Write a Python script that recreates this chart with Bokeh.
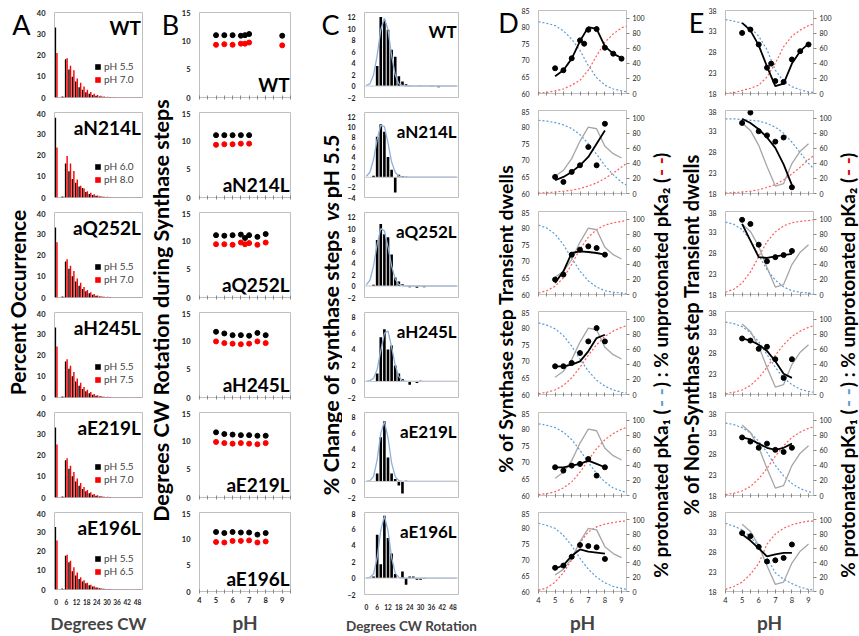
import math
from bokeh.plotting import figure
from bokeh.layouts import row, column
from bokeh.models import Range1d, LinearAxis, FixedTicker, Legend, LegendItem, Span, ColumnDataSource
from bokeh.transform import dodge
from bokeh.core.properties import value
from bokeh.embed import file_html
from bokeh.resources import INLINE

FONT = "Lato"
H = 636

STRAINS = ["WT", "aN214L", "aQ252L", "aH245L", "aE219L", "aE196L"]

# ---------- A: rotation step-size distributions (2-degree bins) ----------
A_BINS = list(range(0, 52, 2))
A_LABELS = [("pH 5.5", "pH 7.0"), ("pH 6.0", "pH 8.0"), ("pH 5.5", "pH 7.0"),
            ("pH 5.5", "pH 7.5"), ("pH 5.5", "pH 7.0"), ("pH 5.5", "pH 6.5")]
A_LOW = [
    [33.0, 0.0, 0.5, 18.0, 13.2, 9.8, 7.5, 4.8, 3.6, 2.5, 1.8, 1.2, 0.8, 0.5, 0.35, 0.25, 0.2, 0.15, 0.1, 0.1, 0.1, 0.1, 0.1, 0.1, 0.1, 0.1],
    [37.5, 0.0, 0.5, 16.0, 12.3, 8.7, 7.0, 5.2, 4.5, 2.6, 1.6, 1.2, 0.8, 0.5, 0.3, 0.2, 0.15, 0.1, 0.1, 0.1, 0.1, 0.1, 0.1, 0.1, 0.1, 0.1],
    [33.0, 0.0, 0.5, 17.0, 13.5, 10.0, 7.5, 5.5, 4.0, 3.0, 2.0, 1.3, 0.8, 0.5, 0.35, 0.25, 0.2, 0.15, 0.1, 0.1, 0.1, 0.1, 0.1, 0.1, 0.1, 0.1],
    [33.0, 0.0, 0.5, 17.0, 13.5, 10.0, 7.5, 5.5, 4.0, 3.0, 2.0, 1.3, 0.8, 0.5, 0.35, 0.25, 0.2, 0.15, 0.1, 0.1, 0.1, 0.1, 0.1, 0.1, 0.1, 0.1],
    [33.0, 0.0, 0.5, 17.5, 13.5, 10.0, 7.5, 5.5, 4.0, 3.0, 2.0, 1.3, 0.8, 0.5, 0.35, 0.25, 0.2, 0.15, 0.1, 0.1, 0.1, 0.1, 0.1, 0.1, 0.1, 0.1],
    [32.5, 0.0, 0.5, 17.5, 14.2, 9.5, 7.3, 5.5, 4.2, 3.2, 2.2, 1.5, 1.0, 0.6, 0.4, 0.3, 0.2, 0.15, 0.1, 0.1, 0.1, 0.1, 0.1, 0.1, 0.1, 0.1],
]
A_HIGH = [
    [21.0, 0.0, 0.3, 18.5, 15.0, 12.8, 9.0, 7.0, 5.2, 3.6, 2.6, 1.8, 1.2, 0.8, 0.5, 0.35, 0.25, 0.2, 0.15, 0.1, 0.1, 0.1, 0.1, 0.1, 0.1, 0.1],
    [23.5, 0.0, 0.3, 19.5, 16.0, 12.5, 8.5, 5.5, 4.2, 3.0, 2.2, 1.5, 1.0, 0.6, 0.4, 0.3, 0.2, 0.15, 0.1, 0.1, 0.1, 0.1, 0.1, 0.1, 0.1, 0.1],
    [26.0, 0.0, 0.3, 18.0, 15.0, 12.5, 9.0, 7.0, 5.0, 3.5, 2.5, 1.6, 1.0, 0.6, 0.4, 0.3, 0.2, 0.15, 0.1, 0.1, 0.1, 0.1, 0.1, 0.1, 0.1, 0.1],
    [24.0, 0.0, 0.3, 18.0, 15.0, 12.0, 9.0, 7.0, 5.0, 3.6, 2.6, 1.7, 1.1, 0.7, 0.4, 0.3, 0.2, 0.15, 0.1, 0.1, 0.1, 0.1, 0.1, 0.1, 0.1, 0.1],
    [25.0, 0.0, 0.3, 18.5, 15.0, 12.0, 9.0, 6.8, 5.0, 3.5, 2.5, 1.7, 1.1, 0.7, 0.4, 0.3, 0.2, 0.15, 0.1, 0.1, 0.1, 0.1, 0.1, 0.1, 0.1, 0.1],
    [25.5, 0.0, 0.3, 18.0, 15.0, 11.5, 8.8, 6.3, 4.8, 3.5, 2.5, 1.7, 1.1, 0.7, 0.4, 0.3, 0.2, 0.15, 0.1, 0.1, 0.1, 0.1, 0.1, 0.1, 0.1, 0.1],
]

# ---------- B: mean rotation per synthase step vs pH ----------
B_PH = [
    [5, 5.5, 6, 6.5, 6.75, 7, 9],
    [5, 5.5, 6, 6.5, 7],
    [5, 5.5, 6, 6.5, 6.75, 7, 7.5, 8],
    [5, 5.5, 6, 6.5, 7, 7.5, 8],
    [5, 5.5, 6, 6.5, 7, 7.5, 8],
    [5, 5.5, 6, 6.5, 7, 7.5, 8],
]
B_BLACK = [
    [11.0, 11.0, 11.0, 10.9, 11.0, 11.2, 10.9],
    [11.0, 11.0, 11.0, 11.0, 11.0],
    [11.0, 10.9, 11.0, 11.1, 10.5, 11.0, 10.7, 11.2],
    [11.6, 11.3, 11.0, 11.0, 10.9, 11.4, 11.0],
    [11.5, 11.2, 11.1, 11.0, 11.0, 10.9, 10.9],
    [11.3, 11.1, 11.3, 11.2, 11.2, 10.8, 11.1],
]
B_RED = [
    [9.3, 9.4, 9.3, 9.5, 9.5, 9.7, 9.2],
    [9.3, 9.4, 9.4, 9.5, 9.5],
    [9.4, 9.4, 9.3, 9.7, 9.4, 9.6, 9.3, 9.7],
    [9.9, 9.6, 9.5, 9.4, 9.5, 9.9, 9.6],
    [9.8, 9.6, 9.5, 9.6, 9.5, 9.4, 9.6],
    [9.4, 9.3, 9.6, 9.6, 9.7, 9.3, 9.5],
]

# ---------- C: change of step distribution vs pH 5.5, with Gaussian fits ----------
C_BINS = list(range(0, 52, 2))
C_YRANGE = [(-2, 12.8), (-4, 12.8), (-2, 12.8), (-2, 8.6), (-2, 8.6), (-2, 8.0)]
C_YTICKS = [list(range(-2, 13, 2)), list(range(-4, 13, 2)), list(range(-2, 13, 2)),
            list(range(-2, 9, 2)), list(range(-2, 9, 2)), list(range(-2, 9, 2))]
C_BARS = [
    [0, 0, 0, 3.5, 12.0, 11.5, 9.8, 6.3, 5.1, 1.7, 0.8, 0.3, 0.1, 0, 0, 0.1, 0, 0, -0.1, 0, -0.2, 0, 0, 0, 0, 0],
    [0, 0, 0.3, 8.0, 10.5, 9.0, 4.0, 1.5, -3.0, 0.5, 0.2, 0.1, 0, -0.1, 0, 0, 0, 0, 0, 0, 0, 0, 0, 0, 0, 0],
    [0, 0, 0.2, 8.0, 10.8, 9.0, 8.5, 5.5, 1.5, 0.8, 0.3, 0, -0.2, 0, -0.3, 0, -0.2, 0, 0, 0, 0, 0, 0, 0, 0, 0],
    [0, 0, 0, 1.0, 5.5, 6.5, 4.0, 4.5, 2.0, 1.0, 0.3, 0, -0.4, 0, -0.2, 0.1, 0, 0, 0, 0, 0, 0, 0, 0, 0, 0],
    [0, 0, 0, 1.0, 5.5, 7.5, 3.0, 1.0, 0.3, -0.5, -1.5, 0.1, 0, 0, 0, 0, 0, 0, 0, 0, 0, 0, 0, 0, 0, 0],
    [0, 0, 0.2, 5.3, 1.7, 7.6, 4.9, 3.0, 0.5, 0, 0.8, -0.8, 0.2, 0.2, -0.2, -0.2, -0.1, 0, 0, 0, 0, 0, 0, 0, 0, 0],
]
C_FIT = [
    [0.1, 0.4, 1.9, 5.3, 9.8, 11.8, 9.8, 5.3, 1.9, 0.4, 0.1, 0, 0, 0, 0, 0, 0, 0, 0, 0, 0, 0, 0, 0, 0, 0],
    [0.2, 1.0, 3.5, 7.5, 10.3, 10.0, 6.8, 3.0, 1.0, 0.2, 0.05, 0, 0, 0, 0, 0, 0, 0, 0, 0, 0, 0, 0, 0, 0, 0],
    [0.2, 1.0, 3.5, 7.3, 10.0, 9.6, 6.8, 3.5, 1.2, 0.3, 0.05, 0, 0, 0, 0, 0, 0, 0, 0, 0, 0, 0, 0, 0, 0, 0],
    [0, 0.1, 0.4, 1.5, 3.8, 6.0, 6.3, 4.3, 2.0, 0.6, 0.1, 0, 0, 0, 0, 0, 0, 0, 0, 0, 0, 0, 0, 0, 0, 0],
    [0, 0.1, 0.6, 2.7, 6.0, 7.5, 5.5, 2.3, 0.6, 0.1, 0, 0, 0, 0, 0, 0, 0, 0, 0, 0, 0, 0, 0, 0, 0, 0],
    [0, 0.1, 0.5, 2.5, 5.8, 7.6, 5.8, 2.5, 0.6, 0.1, 0, 0, 0, 0, 0, 0, 0, 0, 0, 0, 0, 0, 0, 0, 0, 0],
]

# ---------- D / E: transient dwell occurrence vs pH with pKa titration curves ----------
PH_GRID = [4, 4.5, 5, 5.5, 6, 6.5, 7, 7.5, 8, 8.5, 9, 9.3]

D_DOT_X = [
    [5, 5.5, 6, 6.5, 6.75, 7, 7.5, 8, 8.5, 9],
    [5, 5.5, 6, 6.5, 7, 7.5, 8],
    [5, 5.5, 6, 6.5, 7, 7.5, 8],
    [5, 5.5, 6, 6.5, 7, 7.5, 8],
    [5, 5.5, 6, 6.5, 7, 7.5, 8],
    [5, 5.5, 6, 6.5, 7, 7.5, 8],
]
D_DOT_Y = [
    [67.6, 67.0, 70.6, 76.0, 75.0, 79.2, 79.4, 73.8, 72.0, 70.5],
    [65.0, 63.5, 66.5, 68.5, 74.0, 68.5, 81.0],
    [64.5, 66.0, 72.0, 73.5, 74.5, 74.0, 72.0],
    [68.5, 68.5, 69.5, 72.5, 76.0, 80.0, 76.0],
    [68.5, 67.5, 69.0, 69.5, 71.0, 66.0, 68.5],
    [67.5, 68.2, 71.0, 74.7, 74.4, 74.0, 70.3],
]
D_FIT_X = [
    [5, 5.5, 6, 6.5, 7, 7.5, 8, 8.5, 9],
    [5, 5.5, 6, 6.5, 7, 7.5, 8],
    [5, 5.5, 6, 6.5, 7, 7.5, 8],
    [5, 5.5, 6, 6.5, 7, 7.5, 8],
    [5, 5.5, 6, 6.5, 7, 7.5, 8],
    [5, 5.5, 6, 6.5, 7, 7.5, 8],
]
D_FIT_Y = [
    [65.2, 67.0, 70.5, 75.8, 80.0, 79.5, 74.2, 72.0, 70.7],
    [64.0, 65.0, 66.5, 68.5, 71.0, 75.0, 79.0],
    [63.5, 67.0, 72.5, 73.0, 72.8, 72.5, 72.0],
    [68.5, 68.5, 69.0, 70.0, 73.0, 77.0, 78.0],
    [68.5, 68.5, 69.0, 69.5, 70.5, 69.5, 68.5],
    [67.2, 68.3, 71.3, 73.3, 72.6, 72.3, 72.0],
]
D_BLUE = [
    [95, 93, 90, 83, 72, 57, 37, 21, 11, 6, 3.5, 2.5],
    [97, 96, 94, 91, 86, 78, 66, 52, 37, 25, 15, 11],
    [92, 88, 80, 66, 48, 31, 18, 10, 5, 3, 2, 1],
    [95, 92, 87, 78, 64, 47, 31, 19, 11, 6, 3, 2],
    [95, 93, 90, 84, 74, 60, 44, 29, 18, 10, 6, 4],
    [95, 92, 88, 78, 64, 46, 31, 20, 12, 7, 4.4, 3],
]
D_RED = [
    [0.5, 1.5, 3.5, 6, 11, 17.5, 31, 50, 68, 79, 87, 89],
    [0.5, 1, 2, 3, 4.5, 6.5, 10, 14, 20, 27, 35, 40],
    [2, 5, 11, 22, 40, 60, 76, 86, 92, 95, 97, 98],
    [1, 3, 6, 12, 22, 36, 52, 66, 77, 84, 89, 91],
    [1, 2.5, 5, 10, 18, 31, 47, 62, 74, 82, 88, 90],
    [2, 5, 13, 26, 44, 68, 83, 90, 94, 96, 98, 98],
]

E_DOT_X = D_DOT_X
E_DOT_Y = [
    [32.6, 33.4, 29.8, 24.2, 25.2, 21.0, 20.8, 26.2, 28.2, 29.8],
    [35.0, 37.5, 33.0, 32.0, 30.5, 31.5, 19.5],
    [36.0, 35.0, 30.0, 26.0, 27.0, 27.5, 28.5],
    [31.5, 31.0, 29.0, 29.5, 26.5, 22.0, 26.5],
    [32.0, 31.0, 29.5, 30.5, 29.0, 28.5, 29.5],
    [32.8, 32.0, 29.3, 25.6, 25.9, 26.5, 29.9],
]
E_FIT_X = D_FIT_X
E_FIT_Y = [
    [35.0, 33.2, 29.6, 24.5, 19.8, 20.4, 25.2, 28.2, 30.0],
    [36.0, 35.0, 33.5, 31.5, 29.0, 25.0, 20.0],
    [35.0, 31.0, 27.0, 26.8, 27.2, 27.5, 27.8],
    [31.5, 31.0, 30.0, 28.5, 26.0, 23.0, 22.0],
    [32.0, 31.5, 30.5, 29.5, 29.0, 29.5, 30.5],
    [32.5, 30.9, 28.9, 26.9, 27.4, 27.8, 27.8],
]
E_BLUE = [
    [98, 96, 93, 87, 76, 58, 31, 16, 9, 5, 2, 1.5],
    [99, 99, 98, 97, 96, 93, 88, 80, 68, 54, 40, 33],
    [96, 93, 86, 72, 52, 33, 19, 10, 5, 3, 2, 1],
    [96, 94, 90, 82, 70, 53, 36, 22, 13, 7, 4, 3],
    [96, 94, 90, 83, 72, 57, 40, 26, 16, 9, 5, 4],
    [95, 91, 86, 76, 63, 47, 26, 17, 11, 6, 3, 2],
]
E_RED = [
    [0, 1, 4, 7, 11, 22, 40, 62, 76, 84, 90, 92],
    [0.5, 1, 2, 3, 5, 8, 12, 18, 26, 35, 45, 50],
    [3, 7, 15, 30, 50, 70, 83, 91, 95, 97, 98, 99],
    [1, 3, 6, 12, 22, 36, 52, 66, 77, 84, 89, 91],
    [1, 3, 6, 12, 22, 36, 52, 66, 77, 84, 89, 91],
    [3, 7, 13, 24, 39, 66, 80, 88, 93, 96, 98, 98],
]

BLUE = "#5b9bd5"
RED_DOT = "#ff5b5b"
GRAY = "#a6a6a6"
BOX = "#bfbfbf"

# row geometry: frame tops and heights
ABC_TOP = [12, 2, 2, 2, 2, 2]
ABC_BOT = [13, 13, 13, 13, 13, 39]
ABC_FH = 85
DE_TOP = [10, 2, 2, 2, 2, 2]
DE_BOT = [15, 16, 15, 16, 15, 41]
DE_FH = 83


def base(width, height, xr, yr, bl, br, bt, bb):
    p = figure(width=width, height=height, x_range=xr, y_range=yr,
               min_border_left=bl, min_border_right=br, min_border_top=bt, min_border_bottom=bb,
               toolbar_location=None, output_backend="svg", title=None)
    p.grid.visible = False
    p.outline_line_color = BOX
    p.outline_line_width = 1
    p.background_fill_color = "white"
    p.border_fill_color = "white"
    return p


def style_axis(ax, size="7px", bold=True):
    ax.major_label_text_font = FONT
    ax.major_label_text_font_size = size
    ax.major_label_text_font_style = "bold" if bold else "normal"
    ax.major_label_text_color = "#222222"
    ax.axis_line_color = None
    ax.major_tick_line_color = None
    ax.minor_tick_line_color = None
    ax.major_label_standoff = 3


def bottom_label(ax, txt, size):
    ax.axis_label = txt
    ax.axis_label_text_font = FONT
    ax.axis_label_text_font_size = size
    ax.axis_label_text_font_style = "bold"
    ax.axis_label_standoff = 5


def strip(w):
    s = figure(width=w, height=H, x_range=Range1d(0, w), y_range=Range1d(0, H),
               min_border=0, toolbar_location=None, output_backend="svg", title=None)
    s.axis.visible = False
    s.grid.visible = False
    s.outline_line_color = None
    return s


V = math.pi / 2


def put(s, x, ytop, txt, size="18px", color="black", style="bold", angle=0.0,
        align="center", baseline="middle"):
    s.text(x=[x], y=[H - ytop], text=[txt], angle=angle, text_align=align,
           text_baseline=baseline, text_font=value(FONT), text_font_size=size,
           text_font_style=style, text_color=color)


def letter(s, x, ytop, txt):
    put(s, x, ytop, txt, size="27px", style="normal")


# ---------- column A ----------
col_a = []
for i in range(6):
    bl, br, fw = 19, 6, 90
    p = base(bl + fw + br, ABC_TOP[i] + ABC_FH + ABC_BOT[i], Range1d(-1, 51), Range1d(0, 40),
             bl, br, ABC_TOP[i], ABC_BOT[i])
    src = ColumnDataSource(dict(bin=A_BINS, low=A_LOW[i], high=A_HIGH[i]))
    r_lo = p.vbar(x=dodge("bin", -0.45, range=p.x_range), top="low", width=0.85,
                  source=src, fill_color="black", line_color=None)
    r_hi = p.vbar(x=dodge("bin", 0.45, range=p.x_range), top="high", width=0.85,
                  source=src, fill_color="#ff0000", line_color=None)
    p.yaxis.ticker = FixedTicker(ticks=[0, 10, 20, 30, 40])
    style_axis(p.yaxis[0], size="7.5px")
    p.xaxis.ticker = FixedTicker(ticks=list(range(0, 49, 6)))
    style_axis(p.xaxis[0], size="6.5px")
    if i < 5:
        p.xaxis.visible = False
    else:
        bottom_label(p.xaxis[0], "Degrees CW", "17px")
    leg = Legend(items=[LegendItem(label=A_LABELS[i][0], renderers=[r_lo]),
                        LegendItem(label=A_LABELS[i][1], renderers=[r_hi])],
                 location=(40, 12), orientation="vertical",
                 label_text_font=FONT, label_text_font_size="10px",
                 glyph_width=7, glyph_height=7, label_height=10, spacing=1,
                 padding=0, margin=0, label_standoff=3,
                 border_line_color=None, background_fill_alpha=0)
    p.add_layout(leg)
    p.text(x=[50], y=[38.2], text=[STRAINS[i]], text_align="right", text_baseline="top",
           text_font=value(FONT), text_font_size="19px", text_font_style="bold")
    col_a.append(p)

# ---------- column B ----------
col_b = []
for i in range(6):
    bl, br, fw = 21, 10, 91
    p = base(bl + fw + br, ABC_TOP[i] + ABC_FH + ABC_BOT[i], Range1d(4, 9.5), Range1d(0, 15),
             bl, br, ABC_TOP[i], ABC_BOT[i])
    p.scatter(B_PH[i], B_BLACK[i], size=5, color="black")
    p.scatter(B_PH[i], B_RED[i], size=5, color="#ff0000")
    p.yaxis.ticker = FixedTicker(ticks=[0, 5, 10, 15])
    style_axis(p.yaxis[0], size="7.5px")
    p.xaxis.ticker = FixedTicker(ticks=[4, 5, 6, 7, 8, 9], minor_ticks=[4.5, 5.5, 6.5, 7.5, 8.5, 9.5])
    xa = p.xaxis[0]
    style_axis(xa, size="7.5px")
    xa.major_tick_line_color = "#888888"
    xa.minor_tick_line_color = "#888888"
    xa.major_tick_in, xa.major_tick_out = 2, 2
    xa.minor_tick_in, xa.minor_tick_out = 2, 2
    xa.major_label_standoff = 3
    if i < 5:
        xa.major_label_overrides = {t: "" for t in [4, 5, 6, 7, 8, 9]}
    else:
        bottom_label(xa, "pH", "19px")
    p.text(x=[9.45], y=[0.25], text=[STRAINS[i]], text_align="right", text_baseline="bottom",
           text_font=value(FONT), text_font_size="19px", text_font_style="bold")
    col_b.append(p)

# ---------- column C ----------
col_c = []
for i in range(6):
    bl, br, fw = 22, 22, 94
    lo, hi = C_YRANGE[i]
    p = base(bl + fw + br, ABC_TOP[i] + ABC_FH + ABC_BOT[i], Range1d(-1, 51), Range1d(lo, hi),
             bl, br, ABC_TOP[i], ABC_BOT[i])
    p.add_layout(Span(location=0, dimension="width", line_color="#c8c8c8", line_width=1))
    p.vbar(x=C_BINS, top=C_BARS[i], bottom=0, width=1.45, fill_color="black", line_color=None)
    p.line(C_BINS, C_FIT[i], line_color="#8fb0dc", line_width=1.3)
    p.yaxis.ticker = FixedTicker(ticks=C_YTICKS[i])
    style_axis(p.yaxis[0], size="7px")
    p.xaxis.ticker = FixedTicker(ticks=list(range(0, 49, 6)))
    style_axis(p.xaxis[0], size="6.5px")
    if i < 5:
        p.xaxis.visible = False
    else:
        bottom_label(p.xaxis[0], "Degrees CW Rotation", "13.5px")
    p.text(x=[50], y=[hi - (hi - lo) * 0.1], text=[STRAINS[i]], text_align="right",
           text_baseline="top", text_font=value(FONT), text_font_size="17px", text_font_style="bold")
    col_c.append(p)


# ---------- columns D and E ----------
def titration_column(left_range, left_ticks, dot_x, dot_y, fit_x, fit_y, blue, red, fw, br):
    figs = []
    for i in range(6):
        bl = 19
        p = base(bl + fw + br, DE_TOP[i] + DE_FH + DE_BOT[i], Range1d(4, 9.3), Range1d(*left_range),
                 bl, br, DE_TOP[i], DE_BOT[i])
        p.extra_y_ranges = {"pct": Range1d(0, 110)}
        p.line(PH_GRID, blue[i], y_range_name="pct", line_color=BLUE, line_width=1.2, line_dash="2 2")
        p.line(PH_GRID, red[i], y_range_name="pct", line_color=RED_DOT, line_width=1.2, line_dash="2 2")
        if i > 0:
            p.line(fit_x[0], fit_y[0], line_color=GRAY, line_width=1.3)
        p.line(fit_x[i], fit_y[i], line_color="black", line_width=1.8)
        p.scatter(dot_x[i], dot_y[i], size=5, color="black")
        p.yaxis.ticker = FixedTicker(ticks=left_ticks)
        style_axis(p.yaxis[0], size="7px", bold=False)
        ra = LinearAxis(y_range_name="pct", ticker=FixedTicker(ticks=[0, 20, 40, 60, 80, 100]))
        style_axis(ra, size="7px", bold=False)
        ra.major_tick_line_color = "#888888"
        ra.major_tick_in, ra.major_tick_out = 0, 3
        p.add_layout(ra, "right")
        p.xaxis.ticker = FixedTicker(ticks=[4, 5, 6, 7, 8, 9], minor_ticks=[4.5, 5.5, 6.5, 7.5, 8.5])
        xa = p.xaxis[0]
        style_axis(xa, size="7.5px", bold=False)
        xa.major_tick_line_color = "#888888"
        xa.minor_tick_line_color = "#888888"
        xa.major_tick_in, xa.major_tick_out = 2, 2
        xa.minor_tick_in, xa.minor_tick_out = 2, 2
        xa.major_label_standoff = 3
        if i < 5:
            xa.major_label_overrides = {t: "" for t in [4, 5, 6, 7, 8, 9]}
        else:
            bottom_label(xa, "pH", "19px")
        figs.append(p)
    return figs


col_d = titration_column((60, 85), [60, 65, 70, 75, 80, 85], D_DOT_X, D_DOT_Y, D_FIT_X, D_FIT_Y,
                         D_BLUE, D_RED, 89, 22)
col_e = titration_column((18, 38), [18, 23, 28, 33, 38], E_DOT_X, E_DOT_Y, E_FIT_X, E_FIT_Y,
                         E_BLUE, E_RED, 90, 20)

# ---------- title strips ----------
s0 = strip(33)
letter(s0, 21, 24, "A")
put(s0, 17, 302, "Percent Occurrence", size="21px", angle=V)

s1 = strip(30)
letter(s1, 22, 24, "B")
put(s1, 12, 310, "Degrees CW Rotation during Synthase steps", size="21.5px", angle=V)

s2 = strip(42)
letter(s2, 30, 24, "C")
put(s2, 30, 362, "% Change of synthase steps", size="21.5px", angle=V)
put(s2, 30, 211, "vs", size="21.5px", angle=V, style="bold italic")
put(s2, 30, 166, "pH 5.5", size="21.5px", angle=V)

s3 = strip(38)
letter(s3, 28, 22, "D")
put(s3, 25, 318, "% of Synthase step Transient dwells", size="19.5px", angle=V)


def pka_title(s, x):
    # coloured dash samples sit inside the parentheses of each pKa term
    put(s, x, 493, "% protonated pKa\u2081 (", size="19px", angle=V)
    put(s, x, 397, "- -", size="19px", angle=V, color=BLUE)
    put(s, x, 282, ") : % unprotonated pKa\u2082 (", size="19px", angle=V)
    put(s, x, 166, "- -", size="19px", angle=V, color="#e00000")
    put(s, x, 155, ")", size="19px", angle=V)


s4 = strip(57)
letter(s4, 48, 22, "E")
pka_title(s4, 12)
put(s4, 42, 334, "% of Non-Synthase step Transient dwells", size="20px", angle=V)

s5 = strip(26)
pka_title(s5, 13)

layout = row(s0, column(*col_a), s1, column(*col_b), s2, column(*col_c), s3, column(*col_d),
             s4, column(*col_e), s5)

open("out.html", "w").write(file_html(layout, INLINE))
